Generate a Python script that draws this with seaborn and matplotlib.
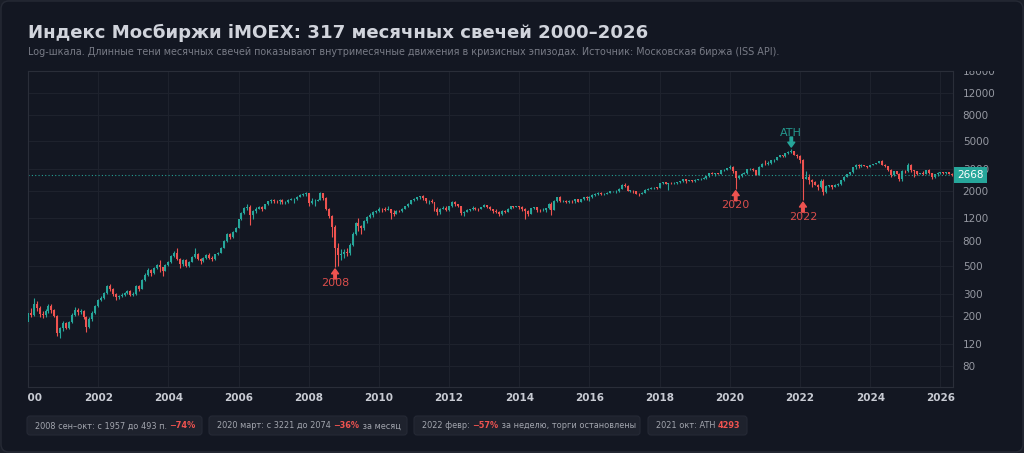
import numpy as np
import pandas as pd
import matplotlib
matplotlib.use("Agg")
import matplotlib.pyplot as plt
from matplotlib.patches import FancyBboxPatch
from matplotlib.transforms import Bbox, TransformedBbox, IdentityTransform, offset_copy
import seaborn as sns

# Monthly iMOEX candles, Jan 2000 .. May 2026
first_open = 180
close = [
    212, 205, 250, 232, 208, 203, 218, 240, 222, 200, 146, 160,            # 2000
    175, 162, 178, 205, 225, 215, 218, 195, 165, 188, 212, 240,            # 2001
    270, 280, 305, 345, 330, 298, 283, 290, 297, 305, 315, 297,            # 2002
    300, 345, 330, 390, 428, 470, 440, 483, 510, 490, 460, 510,            # 2003
    537, 600, 637, 570, 520, 560, 500, 540, 590, 625, 570, 545,            # 2004
    580, 617, 585, 575, 620, 640, 700, 795, 900, 850, 945, 1010,           # 2005
    1180, 1330, 1450, 1480, 1290, 1380, 1440, 1470, 1440, 1560, 1640, 1700,  # 2006
    1650, 1640, 1700, 1620, 1620, 1700, 1720, 1720, 1780, 1840, 1880, 1910,  # 2007
    1600, 1640, 1660, 1700, 1920, 1760, 1430, 1260, 1030, 700, 610, 620,     # 2008
    650, 640, 740, 910, 1100, 1050, 1010, 1150, 1230, 1280, 1350, 1370,      # 2009
    1440, 1420, 1400, 1430, 1320, 1310, 1380, 1370, 1440, 1510, 1580, 1690,  # 2010
    1720, 1770, 1810, 1740, 1640, 1650, 1620, 1420, 1340, 1440, 1460, 1400,  # 2011
    1500, 1620, 1560, 1500, 1320, 1360, 1400, 1420, 1450, 1440, 1430, 1475,  # 2012
    1525, 1490, 1420, 1370, 1360, 1300, 1370, 1350, 1430, 1500, 1480, 1504,  # 2013
    1474, 1437, 1370, 1310, 1450, 1477, 1406, 1396, 1411, 1442, 1570, 1397,  # 2014
    1640, 1770, 1650, 1660, 1620, 1654, 1646, 1715, 1636, 1713, 1775, 1761,  # 2015
    1784, 1859, 1871, 1920, 1881, 1891, 1931, 1978, 1978, 1987, 2078, 2232,  # 2016
    2174, 1996, 1996, 1978, 1880, 1879, 1929, 2040, 2077, 2106, 2116, 2110,  # 2017
    2290, 2335, 2275, 2310, 2290, 2293, 2346, 2369, 2475, 2394, 2420, 2369,  # 2018
    2446, 2464, 2484, 2537, 2596, 2750, 2736, 2753, 2738, 2910, 2919, 3046,  # 2019
    3076, 2850, 2510, 2627, 2732, 2748, 2977, 2977, 2906, 2690, 3106, 3289,  # 2020
    3244, 3318, 3515, 3540, 3720, 3829, 3754, 3967, 4103, 4135, 3859, 3787,  # 2021
    3529, 2470, 2578, 2447, 2334, 2234, 2135, 2405, 1957, 2180, 2207, 2154,  # 2022
    2226, 2256, 2427, 2577, 2715, 2797, 3080, 3210, 3133, 3203, 3166, 3099,  # 2023
    3214, 3257, 3333, 3468, 3217, 3154, 2948, 2659, 2858, 2739, 2500, 2883,  # 2024
    2862, 3220, 2897, 2850, 2730, 2750, 2730, 2930, 2770, 2580, 2700, 2780,  # 2025
    2800, 2760, 2800, 2740, 2668,                                            # 2026
]
high = [
    225, 230, 280, 262, 240, 218, 228, 248, 250, 228, 205, 165,
    182, 180, 183, 212, 235, 232, 226, 222, 200, 195, 218, 246,
    276, 290, 312, 355, 360, 335, 305, 296, 305, 312, 325, 322,
    312, 352, 352, 395, 438, 482, 478, 490, 520, 560, 495, 520,
    548, 610, 660, 700, 585, 572, 568, 548, 598, 700, 632, 585,
    592, 625, 632, 600, 628, 648, 708, 805, 915, 920, 955, 1030,
    1195, 1345, 1470, 1560, 1540, 1395, 1470, 1520, 1500, 1570, 1660, 1720,
    1720, 1700, 1720, 1730, 1660, 1720, 1760, 1760, 1800, 1870, 1925, 1940,
    1920, 1760, 1720, 1720, 1957, 1930, 1780, 1460, 1280, 1060, 760, 680,
    690, 700, 760, 930, 1130, 1200, 1070, 1160, 1260, 1330, 1380, 1400,
    1490, 1460, 1470, 1520, 1440, 1390, 1400, 1400, 1450, 1520, 1590, 1700,
    1760, 1790, 1830, 1860, 1760, 1670, 1720, 1630, 1480, 1460, 1520, 1500,
    1520, 1640, 1640, 1580, 1510, 1380, 1420, 1440, 1520, 1470, 1450, 1490,
    1560, 1550, 1500, 1440, 1420, 1380, 1390, 1400, 1460, 1520, 1520, 1520,
    1520, 1500, 1460, 1400, 1460, 1490, 1490, 1420, 1460, 1450, 1600, 1610,
    1680, 1790, 1800, 1700, 1690, 1680, 1700, 1730, 1720, 1730, 1790, 1800,
    1800, 1880, 1900, 1940, 1935, 1910, 1950, 1990, 2000, 2010, 2090, 2250,
    2290, 2200, 2030, 2020, 1990, 1910, 1950, 2050, 2100, 2130, 2140, 2150,
    2300, 2350, 2340, 2320, 2330, 2330, 2350, 2380, 2490, 2480, 2440, 2440,
    2460, 2500, 2510, 2560, 2610, 2760, 2800, 2790, 2790, 2920, 2960, 3060,
    3221, 3170, 2890, 2680, 2750, 2820, 2980, 3040, 3010, 2930, 3120, 3300,
    3500, 3430, 3530, 3600, 3730, 3860, 3850, 3990, 4120, 4293, 4170, 3930,
    3840, 3600, 2860, 2700, 2490, 2400, 2260, 2470, 2480, 2200, 2240, 2240,
    2260, 2300, 2440, 2600, 2730, 2810, 3090, 3280, 3260, 3270, 3230, 3170,
    3230, 3270, 3350, 3480, 3500, 3290, 3160, 2960, 2880, 2880, 2760, 2920,
    2950, 3350, 3240, 2930, 2880, 2790, 2850, 2950, 2980, 2790, 2740, 2800,
    2830, 2820, 2830, 2810, 2760,
]
low = [
    172, 195, 200, 220, 195, 192, 198, 212, 212, 195, 140, 133,
    152, 158, 158, 175, 200, 205, 206, 190, 150, 160, 184, 208,
    236, 262, 274, 298, 318, 288, 270, 276, 282, 290, 300, 290,
    288, 296, 318, 326, 384, 420, 420, 435, 475, 450, 420, 455,
    500, 530, 592, 560, 488, 505, 490, 495, 535, 585, 555, 520,
    535, 570, 575, 545, 565, 612, 635, 692, 785, 820, 845, 935,
    1000, 1165, 1300, 1390, 1060, 1180, 1330, 1420, 1380, 1420, 1545, 1600,
    1600, 1600, 1560, 1560, 1560, 1590, 1680, 1590, 1700, 1770, 1800, 1830,
    1500, 1580, 1500, 1640, 1690, 1700, 1400, 1200, 860, 493, 500, 560,
    580, 600, 610, 720, 890, 950, 900, 980, 1100, 1200, 1240, 1320,
    1360, 1360, 1380, 1390, 1190, 1260, 1300, 1340, 1360, 1430, 1490, 1570,
    1660, 1690, 1730, 1700, 1600, 1560, 1600, 1380, 1270, 1300, 1420, 1380,
    1380, 1490, 1510, 1480, 1290, 1260, 1340, 1380, 1410, 1410, 1380, 1420,
    1470, 1460, 1400, 1320, 1330, 1250, 1290, 1320, 1340, 1420, 1460, 1470,
    1440, 1380, 1180, 1250, 1300, 1430, 1360, 1350, 1370, 1340, 1430, 1280,
    1390, 1620, 1620, 1610, 1600, 1590, 1600, 1600, 1620, 1620, 1700, 1700,
    1640, 1760, 1810, 1860, 1860, 1860, 1880, 1920, 1940, 1930, 1950, 2070,
    2140, 1990, 1940, 1920, 1870, 1800, 1870, 1920, 2030, 2060, 2080, 2080,
    2100, 2250, 2260, 2020, 2270, 2260, 2280, 2320, 2360, 2310, 2370, 2330,
    2350, 2440, 2440, 2480, 2500, 2590, 2700, 2640, 2700, 2730, 2860, 2900,
    3000, 2770, 2074, 2470, 2560, 2700, 2720, 2900, 2850, 2660, 2680, 3100,
    3220, 3200, 3280, 3400, 3520, 3700, 3700, 3740, 3940, 4030, 3820, 3620,
    3350, 1681, 2470, 2250, 2150, 2200, 2040, 2110, 1860, 1930, 2130, 2080,
    2140, 2180, 2210, 2400, 2570, 2690, 2780, 3000, 3050, 3110, 3140, 3010,
    3080, 3180, 3240, 3310, 3180, 3070, 2890, 2580, 2600, 2720, 2400, 2370,
    2790, 2820, 2820, 2550, 2660, 2700, 2680, 2700, 2700, 2490, 2540, 2630,
    2740, 2700, 2720, 2700, 2640,
]
last_price = 2668
y_ticks = [80, 120, 200, 300, 500, 800, 1200, 2000, 3000, 5000, 8000, 12000, 18000]
x_years = list(range(2000, 2027, 2))

# event markers: label, month, which extreme, colour key
events = [("2008", "2008-10", "low", "down"),
          ("2020", "2020-03", "low", "down"),
          ("2022", "2022-02", "low", "down"),
          ("ATH", "2021-10", "high", "up")]

# footer notes: list of (text, highlighted)
notes = [
    [("2008 сен–окт: с 1957 до 493 п. ", False), ("−74%", True)],
    [("2020 март: с 3221 до 2074 ", False), ("−36%", True), (" за месяц", False)],
    [("2022 февр: ", False), ("−57%", True), (" за неделю, торги остановлены", False)],
    [("2021 окт: ATH ", False), ("4293", True)],
]

months = pd.period_range("2000-01", periods=len(close), freq="M")
df = pd.DataFrame({"month": months, "close": close, "high": high, "low": low})
df["open"] = [first_open] + close[:-1]
df["i"] = np.arange(len(df))
df["up"] = df["close"] >= df["open"]

BG = "#131722"
GRID = "#1e222d"
UP = "#26a69a"
DOWN = "#ef5350"
TXT = "#d1d4dc"
MUTED = "#787b86"

sns.set_theme(style="dark", rc={"axes.facecolor": BG, "figure.facecolor": "#1a1e28",
                                "axes.edgecolor": "#2a2e39"})
plt.rcParams["font.family"] = ["DejaVu Sans"]

W, H = 1024, 453
fig = plt.figure(figsize=(W / 100, H / 100), dpi=100)
fig.patches.append(FancyBboxPatch((1, 1), W - 2, H - 2, boxstyle="round,pad=0,rounding_size=8",
                                  transform=IdentityTransform(), fc=BG, ec="#262a35", lw=1,
                                  zorder=-10))

ax = fig.add_axes([28 / W, 66 / H, 925 / W, 316 / H])
ax.set_facecolor(BG)

# candles
colors = np.where(df["up"], UP, DOWN)
body_lo = np.minimum(df["open"], df["close"])
body_h = np.maximum((df["close"] - df["open"]).abs(), body_lo * 0.006)
ax.vlines(df["i"], df["low"], df["high"], colors=colors, lw=0.8, zorder=2)
ax.bar(df["i"], body_h, bottom=body_lo, width=0.68, color=colors, linewidth=0, zorder=3)

ax.set_yscale("log")
ax.set_ylim(54.4, 18000)
ax.set_xlim(0, len(df) - 0.7)

ax.set_yticks(y_ticks)
ax.set_yticklabels([str(v) for v in y_ticks])
ax.yaxis.set_minor_locator(matplotlib.ticker.NullLocator())
ax.yaxis.tick_right()
ax.tick_params(axis="y", colors="#9598a1", labelsize=7.5, length=0, pad=7)
ax.set_xticks([(y - 2000) * 12 for y in x_years])
ax.set_xticklabels([str(y) for y in x_years])
ax.tick_params(axis="x", labelcolor="#c8cbd3", labelsize=7.5, length=0, pad=4)
for lab in ax.get_xticklabels():
    lab.set_fontweight("bold")
ax.grid(True, color=GRID, lw=0.8, zorder=0)
ax.set_axisbelow(True)
for s in ax.spines.values():
    s.set_color("#2a2e39")
    s.set_linewidth(0.8)

# labels are clipped at the left and top edge of the plot, like in the source
clip = TransformedBbox(Bbox([[28 / W, 0], [1, 382 / H]]), fig.transFigure)
for lab in ax.get_xticklabels() + ax.get_yticklabels():
    lab.set_clip_box(clip)
    lab.set_clip_on(True)

# last price line and tag
ax.axhline(last_price, color=UP, ls=(0, (1, 2)), lw=0.8, alpha=0.95, zorder=1)
ax.annotate(str(last_price), xy=(1.0, last_price), xycoords=("axes fraction", "data"),
            xytext=(4, 0), textcoords="offset pixels", ha="left", va="center",
            color="white", fontsize=7.5, zorder=5, annotation_clip=False,
            bbox=dict(boxstyle="square,pad=0.32", fc=UP, ec="none"))

# event arrows
for label, m, kind, ck in events:
    idx = months.get_loc(pd.Period(m, freq="M"))
    v = df.loc[idx, kind]
    c = DOWN if ck == "down" else UP
    sgn = -1 if kind == "low" else 1
    tip = offset_copy(ax.transData, fig=fig, x=0, y=sgn * 2, units="dots")
    ax.annotate("", xy=(idx, v), xycoords=tip, xytext=(0, sgn * 10), textcoords="offset pixels",
                arrowprops=dict(arrowstyle="simple,head_length=0.35,head_width=0.5,tail_width=0.18",
                                color=c, shrinkA=0, shrinkB=0, mutation_scale=10))
    ax.annotate(label, xy=(idx, v), xytext=(0, sgn * 16.5), textcoords="offset pixels",
                ha="center", va="center", color=c, fontsize=8, alpha=0.9)

# title block
fig.text(28 / W, 1 - 33 / H, "Индекс Мосбиржи iMOEX: 317 месячных свечей 2000–2026",
         fontsize=13.1, fontweight="bold", color=TXT, va="center")
fig.text(28 / W, 1 - 52 / H,
         "Log-шкала. Длинные тени месячных свечей показывают внутримесячные движения "
         "в кризисных эпизодах. Источник: Московская биржа (ISS API).",
         fontsize=6.95, color=MUTED, va="center")

# footer chips
chip_x = [(27, 202), (209, 407), (414, 640), (648, 747)]
for (x0, x1), parts in zip(chip_x, notes):
    fig.patches.append(FancyBboxPatch((x0, H - 435), x1 - x0, 19, boxstyle="round,pad=0,rounding_size=3",
                                      transform=IdentityTransform(), fc="#1e222d", ec="#252935", lw=0.8,
                                      zorder=-5))
    prev = None
    for txt, hl in parts:
        kw = dict(fontsize=5.9, color=DOWN if hl else "#a3a6af",
                  fontweight="bold" if hl else "normal", va="bottom", ha="left")
        if prev is None:
            prev = fig.text((x0 + 8) / W, (H - 430.5) / H, txt, **kw)
        else:
            prev = ax.annotate(txt, xy=(1, 0), xycoords=prev, annotation_clip=False, **kw)

fig.savefig("out.png", dpi=100, facecolor=fig.get_facecolor())
